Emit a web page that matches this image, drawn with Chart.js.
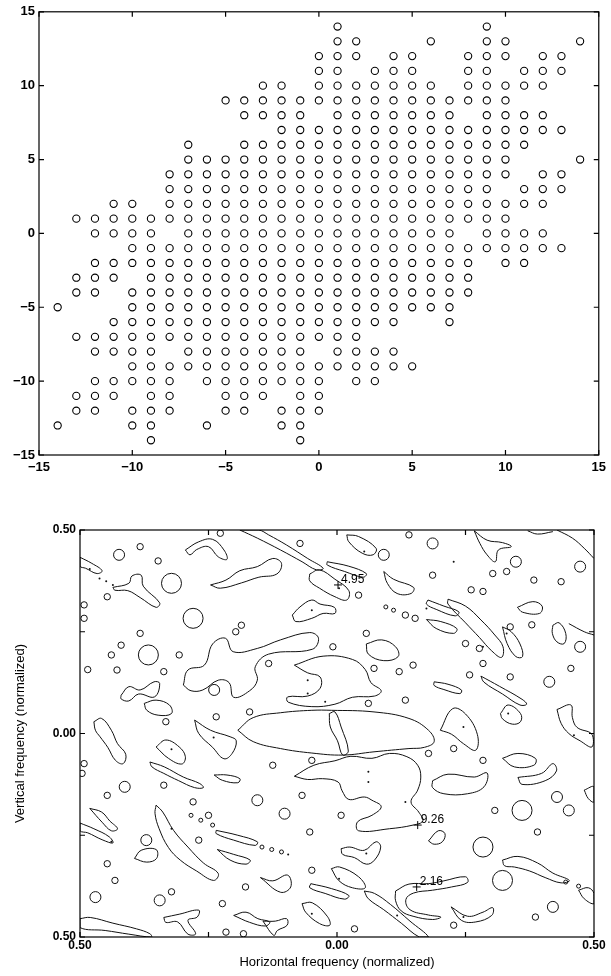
<!DOCTYPE html>
<html>
<head>
<meta charset="utf-8">
<script src="https://cdn.jsdelivr.net/npm/chart.js@4.4.1/dist/chart.umd.min.js"></script>
<style>
  html, body { margin: 0; padding: 0; background: #fff; }
  canvas { display: block; }
</style>
</head>
<body>
<canvas id="gridChart" width="611" height="485"></canvas>
<canvas id="contourChart" width="611" height="491"></canvas>
<script>
// ---- top plot: occupied integer lags (one row per vertical lag) ----
const rowLevels = [14, 13, 12, 11, 10, 9, 8, 7, 6, 5, 4, 3, 2, 1, 0, -1, -2, -3, -4, -5, -6, -7, -8, -9, -10, -11, -12, -13, -14];
const rowColumns = [
  [1, 9],
  [1, 2, 6, 9, 10, 14],
  [0, 1, 2, 4, 5, 8, 9, 10, 12, 13],
  [0, 1, 3, 4, 5, 8, 9, 11, 12, 13],
  [-3, -2, 0, 1, 2, 3, 4, 5, 6, 8, 9, 10, 11, 12],
  [-5, -4, -3, -2, -1, 0, 1, 2, 3, 4, 5, 6, 7, 8, 9, 10],
  [-4, -3, -2, -1, 1, 2, 3, 4, 5, 6, 7, 9, 10, 11, 12],
  [-2, -1, 0, 1, 2, 3, 4, 5, 6, 7, 8, 9, 10, 11, 12, 13],
  [-7, -4, -3, -2, -1, 0, 1, 2, 3, 4, 5, 6, 7, 8, 9, 10, 11],
  [-7, -6, -5, -4, -3, -2, -1, 0, 1, 2, 3, 4, 5, 6, 7, 8, 9, 10, 14],
  [-8, -7, -6, -5, -4, -3, -2, -1, 0, 1, 2, 3, 4, 5, 6, 7, 8, 9, 10, 12, 13],
  [-8, -7, -6, -5, -4, -3, -2, -1, 0, 1, 2, 3, 4, 5, 6, 7, 8, 9, 11, 12, 13],
  [-11, -10, -8, -7, -6, -5, -4, -3, -2, -1, 0, 1, 2, 3, 4, 5, 6, 7, 8, 9, 10, 11, 12],
  [-13, -12, -11, -10, -9, -8, -7, -6, -5, -4, -3, -2, -1, 0, 1, 2, 3, 4, 5, 6, 7, 8, 9, 10],
  [-12, -11, -10, -9, -7, -6, -5, -4, -3, -2, -1, 0, 1, 2, 3, 4, 5, 6, 7, 9, 10, 11, 12],
  [-10, -9, -8, -7, -6, -5, -4, -3, -2, -1, 0, 1, 2, 3, 4, 5, 6, 7, 8, 9, 10, 11, 12, 13],
  [-12, -11, -10, -9, -8, -7, -6, -5, -4, -3, -2, -1, 0, 1, 2, 3, 4, 5, 6, 7, 8, 10, 11],
  [-13, -12, -11, -9, -8, -7, -6, -5, -4, -3, -2, -1, 0, 1, 2, 3, 4, 5, 6, 7, 8],
  [-13, -12, -10, -9, -8, -7, -6, -5, -4, -3, -2, -1, 0, 1, 2, 3, 4, 5, 6, 7, 8],
  [-14, -10, -9, -8, -7, -6, -5, -4, -3, -2, -1, 0, 1, 2, 3, 4, 5, 6, 7],
  [-11, -10, -9, -8, -7, -6, -5, -4, -3, -2, -1, 0, 1, 2, 3, 4, 7],
  [-13, -12, -11, -10, -9, -8, -7, -6, -5, -4, -3, -2, -1, 0, 1, 2],
  [-12, -11, -10, -9, -7, -6, -5, -4, -3, -2, -1, 1, 2, 3, 4],
  [-10, -9, -8, -7, -6, -5, -4, -3, -2, -1, 0, 1, 2, 3, 4, 5],
  [-12, -11, -10, -9, -8, -6, -5, -4, -3, -2, -1, 0, 2, 3],
  [-13, -12, -11, -9, -8, -5, -4, -3, -1, 0],
  [-13, -12, -10, -9, -8, -5, -4, -2, -1, 0],
  [-14, -10, -9, -6, -2, -1],
  [-9, -1]
];
const gridTicks = [-15, -10, -5, 0, 5, 10, 15];

// ---- bottom plot: contour outlines in normalized frequency ----
const contourLoops = [
  [[-0.5,0.433],[-0.477,0.418],[-0.457,0.4],[-0.467,0.393],[-0.489,0.406],[-0.5,0.411]],
  [[-0.295,0.451],[-0.269,0.471],[-0.242,0.477],[-0.220,0.451],[-0.214,0.428],[-0.231,0.434],[-0.250,0.459],[-0.273,0.452],[-0.286,0.439]],
  [[-0.189,0.5],[-0.155,0.480],[-0.110,0.451],[-0.068,0.422],[-0.040,0.402],[-0.027,0.406],[-0.057,0.430],[-0.098,0.463],[-0.133,0.488],[-0.152,0.5]],
  [[-0.246,0.365],[-0.216,0.377],[-0.189,0.400],[-0.155,0.410],[-0.125,0.430],[-0.108,0.418],[-0.117,0.392],[-0.152,0.384],[-0.186,0.370],[-0.227,0.357]],
  [[0.019,0.488],[0.042,0.484],[0.076,0.455],[0.070,0.439],[0.049,0.443],[0.023,0.471]],
  [[0.267,0.498],[0.292,0.475],[0.322,0.469],[0.339,0.459],[0.314,0.451],[0.308,0.422],[0.292,0.439],[0.278,0.467]],
  [[-0.019,0.422],[0.023,0.411],[0.057,0.393],[0.051,0.384],[0.015,0.398],[-0.019,0.414]],
  [[-0.053,0.392],[-0.034,0.402],[-0.004,0.379],[0.023,0.351],[0.019,0.328],[-0.004,0.336],[-0.034,0.357],[-0.053,0.375]],
  [[0.091,0.398],[0.110,0.379],[0.149,0.359],[0.144,0.344],[0.117,0.344],[0.098,0.369]],
  [[-0.436,0.359],[-0.405,0.369],[-0.399,0.387],[-0.381,0.389],[-0.377,0.362],[-0.345,0.321],[-0.352,0.310],[-0.383,0.334],[-0.407,0.351],[-0.432,0.352]],
  [[-0.087,0.291],[-0.072,0.311],[-0.049,0.328],[-0.033,0.318],[-0.005,0.310],[-0.004,0.295],[-0.027,0.295],[-0.049,0.283],[-0.080,0.275]],
  [[0.177,0.328],[0.208,0.313],[0.237,0.299],[0.230,0.289],[0.193,0.305],[0.174,0.318]],
  [[0.216,0.330],[0.250,0.313],[0.280,0.279],[0.307,0.242],[0.323,0.213],[0.320,0.187],[0.301,0.203],[0.277,0.236],[0.250,0.272],[0.216,0.318]],
  [[0.351,0.310],[0.381,0.324],[0.399,0.313],[0.394,0.295],[0.361,0.298]],
  [[0.174,0.280],[0.202,0.275],[0.233,0.258],[0.227,0.246],[0.193,0.258]],
  [[0.322,0.262],[0.339,0.250],[0.356,0.220],[0.361,0.189],[0.348,0.189],[0.331,0.221]],
  [[0.420,0.266],[0.432,0.272],[0.445,0.246],[0.442,0.221],[0.428,0.225],[0.419,0.246]],
  [[0.057,0.220],[0.087,0.230],[0.114,0.213],[0.119,0.189],[0.091,0.179],[0.061,0.195]],
  [[-0.299,0.119],[-0.290,0.156],[-0.258,0.168],[-0.242,0.220],[-0.217,0.234],[-0.202,0.201],[-0.155,0.209],[-0.110,0.230],[-0.053,0.248],[-0.036,0.234],[-0.048,0.207],[-0.133,0.195],[-0.159,0.164],[-0.155,0.131],[-0.170,0.105],[-0.201,0.089],[-0.210,0.125],[-0.231,0.131],[-0.261,0.107],[-0.284,0.105]],
  [[-0.083,0.168],[-0.027,0.190],[0.030,0.182],[0.055,0.157],[0.066,0.125],[0.086,0.105],[0.073,0.092],[0.030,0.089],[-0.004,0.072],[-0.049,0.066],[-0.095,0.077],[-0.096,0.090],[-0.057,0.092],[-0.033,0.111],[-0.033,0.139],[-0.057,0.149]],
  [[-0.193,0.008],[-0.163,0.039],[-0.110,0.051],[-0.049,0.057],[-0.011,0.057],[0.072,0.053],[0.140,0.037],[0.178,0.008],[0.189,-0.020],[0.170,-0.034],[0.140,-0.037],[0.072,-0.045],[0.011,-0.053],[-0.049,-0.048],[-0.110,-0.037],[-0.163,-0.020]],
  [[-0.015,0.049],[-0.004,0.053],[0.008,0.016],[0.022,-0.043],[0.011,-0.053],[0.001,-0.018],[-0.013,0.016]],
  [[-0.083,-0.105],[-0.045,-0.078],[-0.004,-0.067],[0.027,-0.056],[0.068,-0.061],[0.102,-0.049],[0.136,-0.057],[0.157,-0.078],[0.163,-0.107],[0.157,-0.139],[0.144,-0.168],[0.159,-0.193],[0.167,-0.215],[0.148,-0.225],[0.102,-0.234],[0.042,-0.239],[0.040,-0.217],[0.068,-0.201],[0.086,-0.180],[0.068,-0.164],[0.053,-0.156],[0.023,-0.162],[0.010,-0.141],[0.002,-0.119],[-0.028,-0.111],[-0.057,-0.113]],
  [[0.114,-0.387],[0.140,-0.370],[0.178,-0.369],[0.208,-0.362],[0.250,-0.352],[0.254,-0.366],[0.223,-0.377],[0.186,-0.385],[0.149,-0.392],[0.134,-0.408],[0.142,-0.433],[0.178,-0.446],[0.202,-0.451],[0.186,-0.457],[0.148,-0.449],[0.125,-0.436],[0.114,-0.411]],
  [[0.053,-0.387],[0.073,-0.393],[0.104,-0.420],[0.142,-0.461],[0.178,-0.5],[0.160,-0.5],[0.125,-0.466],[0.091,-0.433],[0.061,-0.406]],
  [[-0.011,-0.332],[0.005,-0.328],[0.042,-0.352],[0.055,-0.379],[0.030,-0.379],[0.004,-0.362]],
  [[-0.051,-0.369],[-0.011,-0.381],[0.023,-0.398],[0.015,-0.407],[-0.023,-0.393],[-0.053,-0.379]],
  [[-0.068,-0.418],[-0.048,-0.416],[-0.019,-0.449],[-0.014,-0.471],[-0.034,-0.467],[-0.061,-0.439]],
  [[-0.149,-0.354],[-0.125,-0.362],[-0.096,-0.348],[-0.090,-0.377],[-0.110,-0.390]],
  [[-0.201,-0.447],[-0.177,-0.439],[-0.154,-0.455],[-0.131,-0.463],[-0.139,-0.473],[-0.170,-0.464]],
  [[-0.144,-0.461],[-0.120,-0.461],[-0.098,-0.455],[-0.097,-0.471],[-0.116,-0.484],[-0.123,-0.496]],
  [[-0.337,-0.452],[-0.307,-0.444],[-0.269,-0.434],[-0.272,-0.451],[-0.290,-0.459],[-0.275,-0.492],[-0.290,-0.493],[-0.310,-0.463],[-0.333,-0.464]],
  [[-0.5,-0.455],[-0.480,-0.452],[-0.436,-0.466],[-0.390,-0.480],[-0.364,-0.492],[-0.361,-0.5],[-0.405,-0.493],[-0.451,-0.484],[-0.5,-0.477]],
  [[-0.352,-0.176],[-0.339,-0.193],[-0.318,-0.238],[-0.290,-0.279],[-0.260,-0.318],[-0.231,-0.344],[-0.240,-0.361],[-0.273,-0.338],[-0.305,-0.311],[-0.328,-0.280],[-0.346,-0.234],[-0.354,-0.197]],
  [[-0.481,-0.184],[-0.458,-0.193],[-0.442,-0.215],[-0.427,-0.234],[-0.439,-0.239],[-0.457,-0.218]],
  [[-0.5,-0.220],[-0.473,-0.234],[-0.443,-0.254],[-0.436,-0.269],[-0.457,-0.261],[-0.485,-0.244],[-0.5,-0.239]],
  [[-0.394,-0.307],[-0.381,-0.287],[-0.352,-0.285],[-0.351,-0.307],[-0.370,-0.316]],
  [[-0.233,-0.285],[-0.201,-0.297],[-0.169,-0.311],[-0.177,-0.321],[-0.208,-0.311]],
  [[-0.235,-0.238],[-0.193,-0.250],[-0.155,-0.266],[-0.159,-0.275],[-0.201,-0.262],[-0.235,-0.246]],
  [[0.008,-0.283],[0.025,-0.279],[0.053,-0.287],[0.076,-0.266],[0.085,-0.279],[0.073,-0.311],[0.057,-0.321],[0.034,-0.305],[0.011,-0.297]],
  [[0.178,-0.264],[0.197,-0.239],[0.210,-0.246],[0.205,-0.266],[0.189,-0.272]],
  [[0.222,-0.426],[0.254,-0.449],[0.284,-0.439],[0.303,-0.428],[0.301,-0.447],[0.270,-0.463],[0.242,-0.459]],
  [[0.322,-0.311],[0.352,-0.302],[0.390,-0.318],[0.420,-0.343],[0.452,-0.361],[0.436,-0.367],[0.405,-0.354],[0.375,-0.338],[0.345,-0.328],[0.326,-0.325]],
  [[0.470,-0.385],[0.489,-0.379],[0.5,-0.393],[0.5,-0.418],[0.481,-0.406]],
  [[0.186,-0.116],[0.216,-0.100],[0.267,-0.107],[0.292,-0.097],[0.286,-0.131],[0.254,-0.148],[0.208,-0.148],[0.186,-0.133]],
  [[0.352,-0.108],[0.398,-0.098],[0.420,-0.074],[0.427,-0.092],[0.405,-0.116],[0.360,-0.125]],
  [[0.322,-0.061],[0.352,-0.049],[0.386,-0.061],[0.383,-0.078],[0.345,-0.082]],
  [[0.201,0.008],[0.225,0.061],[0.250,0.048],[0.273,-0.002],[0.270,-0.041],[0.246,-0.025],[0.223,-0.002]],
  [[0.318,0.049],[0.333,0.070],[0.357,0.049],[0.357,0.029],[0.341,0.023],[0.322,0.036]],
  [[0.428,0.059],[0.455,0.070],[0.458,0.039],[0.467,0.015],[0.496,-0.002],[0.496,-0.033],[0.473,-0.018],[0.451,0],[0.436,0.025]],
  [[0.280,0.141],[0.316,0.116],[0.360,0.084],[0.369,0.072],[0.356,0.070],[0.322,0.097],[0.286,0.126]],
  [[0.189,0.127],[0.216,0.121],[0.242,0.107],[0.239,0.098],[0.208,0.108],[0.189,0.118]],
  [[-0.277,0.033],[-0.246,0.008],[-0.208,-0.008],[-0.196,-0.018],[-0.204,-0.049],[-0.220,-0.062],[-0.242,-0.034],[-0.269,0]],
  [[-0.473,0.029],[-0.458,0.037],[-0.439,0.008],[-0.427,-0.025],[-0.411,-0.051],[-0.416,-0.074],[-0.431,-0.066],[-0.446,-0.034],[-0.461,-0.008],[-0.470,0.008]],
  [[-0.352,-0.033],[-0.333,-0.016],[-0.307,-0.033],[-0.295,-0.057],[-0.302,-0.075],[-0.328,-0.061]],
  [[-0.364,-0.070],[-0.336,-0.082],[-0.299,-0.107],[-0.267,-0.123],[-0.260,-0.133],[-0.277,-0.133],[-0.308,-0.116],[-0.337,-0.098],[-0.360,-0.082]],
  [[-0.239,-0.102],[-0.214,-0.102],[-0.189,-0.111],[-0.193,-0.121],[-0.223,-0.115]],
  [[-0.420,0.094],[-0.405,0.115],[-0.383,0.107],[-0.356,0.127],[-0.345,0.123],[-0.355,0.090],[-0.386,0.097],[-0.405,0.080],[-0.420,0.085]],
  [[-0.375,0.074],[-0.352,0.082],[-0.326,0.070],[-0.322,0.049],[-0.348,0.045],[-0.370,0.057]],
  [[0.481,-0.139],[0.5,-0.131],[0.5,-0.168],[0.489,-0.160]]
];
const contourOpenLines = [
  [[0.428,0.5],[0.458,0.480],[0.481,0.455],[0.5,0.430]],
  [[0.371,0.498],[0.390,0.490],[0.420,0.496]],
  [[0.451,0.270],[0.481,0.250],[0.5,0.242]]
];
const smallOvals = [
  [-0.383,0.459],[-0.348,0.424],[-0.227,0.492],[-0.072,0.467],[0.330,0.398],[0.303,0.393],[0.383,0.377],[0.436,0.373],
  [0.186,0.389],[-0.447,0.336],[-0.492,0.316],[-0.492,0.283],[0.042,0.340],[0.133,0.291],[0.152,0.283],[0.337,0.262],
  [0.379,0.267],[0.261,0.353],[0.284,0.349],[-0.383,0.246],[-0.420,0.217],[-0.439,0.193],[-0.307,0.193],[-0.428,0.156],
  [-0.337,0.152],[-0.133,0.172],[-0.008,0.213],[0.057,0.246],[0.072,0.160],[0.121,0.152],[0.148,0.168],[0.250,0.221],
  [0.277,0.209],[0.258,0.144],[0.284,0.172],[0.337,0.139],[0.455,0.160],[-0.333,0.029],[-0.235,0.041],[-0.170,0.053],
  [0.133,0.082],[-0.492,-0.074],[-0.496,-0.098],[-0.337,-0.127],[-0.447,-0.152],[-0.280,-0.168],[-0.125,-0.078],[-0.049,-0.066],
  [-0.068,-0.152],[0.008,-0.201],[-0.053,-0.242],[0.178,-0.049],[0.227,-0.037],[0.284,-0.066],[0.307,-0.189],[0.390,-0.242],
  [-0.250,-0.201],[-0.269,-0.262],[-0.432,-0.361],[-0.447,-0.320],[-0.322,-0.389],[-0.216,-0.488],[-0.182,-0.492],[-0.178,-0.377],
  [-0.223,-0.418],[-0.049,-0.336],[0.227,-0.471],[0.386,-0.451],[0.034,-0.480],[-0.485,0.157],[0.140,0.488],[-0.197,0.250],
  [-0.186,0.266],[0.061,0.074]
];
const midOvals = [
  [-0.424,0.439],[0.186,0.467],[0.091,0.439],[0.348,0.422],[0.473,0.410],[-0.371,-0.262],[-0.239,0.107],[0.413,0.127],
  [-0.413,-0.131],[-0.155,-0.164],[0.428,-0.156],[0.451,-0.189],[0.420,-0.426],[-0.470,-0.402],[-0.345,-0.410],[-0.102,-0.197],
  [0.473,0.213]
];
const bigOvals = [
  [-0.322,0.369],[-0.280,0.283],[-0.367,0.193],[0.360,-0.189],[0.284,-0.279],[0.322,-0.361]
];
const tinyOvals = [
  [-0.284,-0.201],[-0.265,-0.213],[-0.242,-0.225],[-0.146,-0.279],[-0.127,-0.285],[-0.108,-0.291],[0.095,0.311],[0.110,0.303],
  [0.445,-0.365],[0.470,-0.375]
];
const contourDots = [
  [-0.462,0.381],[-0.449,0.374],[-0.436,0.365],[0.053,0.447],[0.227,0.422],[-0.049,0.303],[0.004,0.357],[0.174,0.307],
  [0.330,0.246],[0.284,0.213],[-0.057,0.131],[-0.057,0.098],[-0.023,0.078],[-0.240,-0.010],[-0.322,-0.039],[0.246,0.016],
  [0.333,0.049],[0.461,-0.004],[0.061,-0.119],[0.061,-0.094],[0.133,-0.168],[0.057,-0.295],[-0.049,-0.443],[0.246,-0.451],
  [0.117,-0.447],[0.004,-0.357],[-0.322,-0.234],[-0.439,-0.266],[-0.481,0.404],[-0.095,-0.297]
];
const peakMarks = [[0.002,0.365],[0.157,-0.225],[0.155,-0.377]];
const peakLabels = ['4.95', '9.26', '2.16'];
const freqTicks = [-0.5, -0.25, 0, 0.25, 0.5];

Chart.defaults.font.family = '"Liberation Sans", Arial, sans-serif';
Chart.defaults.color = '#000';

// box round the plot with short inward ticks on all four sides
const frameTicks = {
  id: 'frameTicks',
  afterDatasetsDraw(chart, args, opts) {
    const {ctx, chartArea: a, scales: {x, y}} = chart;
    const len = opts.len || 5;
    ctx.save();
    ctx.strokeStyle = '#000';
    ctx.lineWidth = 1.2;
    ctx.strokeRect(a.left, a.top, a.right - a.left, a.bottom - a.top);
    ctx.beginPath();
    x.ticks.forEach(t => {
      const px = x.getPixelForValue(t.value);
      ctx.moveTo(px, a.bottom); ctx.lineTo(px, a.bottom - len);
      ctx.moveTo(px, a.top); ctx.lineTo(px, a.top + len);
    });
    y.ticks.forEach(t => {
      const py = y.getPixelForValue(t.value);
      ctx.moveTo(a.left, py); ctx.lineTo(a.left + len, py);
      ctx.moveTo(a.right, py); ctx.lineTo(a.right - len, py);
    });
    ctx.stroke();
    ctx.restore();
  }
};

// peak values written next to their + marks
const peakText = {
  id: 'peakText',
  afterDatasetsDraw(chart) {
    const {ctx, scales: {x, y}} = chart;
    ctx.save();
    ctx.font = '12px "Liberation Sans", Arial, sans-serif';
    ctx.fillStyle = '#000';
    ctx.textBaseline = 'middle';
    peakMarks.forEach((p, i) => {
      ctx.fillText(peakLabels[i], x.getPixelForValue(p[0]) + 3, y.getPixelForValue(p[1]) - 5);
    });
    ctx.restore();
  }
};

const minusLabel = v => (v < 0 ? '\u2212' + Math.abs(v) : String(v));

// ---- top chart ----
const gridPoints = [];
rowLevels.forEach((yv, i) => {
  rowColumns[i].forEach(xv => gridPoints.push({x: xv, y: yv}));
});

new Chart(document.getElementById('gridChart').getContext('2d'), {
  type: 'scatter',
  data: {
    datasets: [{
      data: gridPoints,
      pointStyle: 'circle',
      pointRadius: 3.6,
      pointBorderWidth: 1.1,
      pointBorderColor: '#000',
      pointBackgroundColor: 'rgba(0,0,0,0)'
    }]
  },
  options: {
    responsive: false,
    animation: false,
    events: [],
    layout: { padding: { top: 10, right: 10, left: 0, bottom: 0 } },
    plugins: { legend: { display: false }, tooltip: { enabled: false }, frameTicks: { len: 5 } },
    scales: {
      x: {
        type: 'linear', min: -15, max: 15,
        afterBuildTicks: s => { s.ticks = gridTicks.map(v => ({value: v})); },
        afterFit: s => { s.height = 30; },
        grid: { display: false, drawTicks: false, tickLength: 0 },
        border: { display: false },
        ticks: { padding: 5, autoSkip: false, maxRotation: 0, font: { size: 13, weight: 'bold' }, callback: minusLabel }
      },
      y: {
        type: 'linear', min: -15, max: 15,
        afterBuildTicks: s => { s.ticks = gridTicks.map(v => ({value: v})); },
        afterFit: s => { s.width = 39; },
        grid: { display: false, drawTicks: false, tickLength: 0 },
        border: { display: false },
        ticks: { padding: 4, autoSkip: false, font: { size: 13, weight: 'bold' }, callback: minusLabel }
      }
    }
  },
  plugins: [frameTicks]
});

// ---- bottom chart ----
const toXY = pts => pts.map(p => ({x: p[0], y: p[1]}));
const lineStyle = { showLine: true, tension: 0.4, borderColor: '#111', borderWidth: 1, pointRadius: 0, fill: false };
const ovalStyle = r => ({ showLine: false, pointStyle: 'circle', pointRadius: r, pointBorderWidth: 1, pointBorderColor: '#111', pointBackgroundColor: 'rgba(0,0,0,0)' });

const contourSets = []
  .concat(contourLoops.map(loop => Object.assign({ data: toXY(loop.concat([loop[0]])) }, lineStyle)))
  .concat(contourOpenLines.map(line => Object.assign({ data: toXY(line) }, lineStyle)))
  .concat([
    Object.assign({ data: toXY(tinyOvals) }, ovalStyle(2)),
    Object.assign({ data: toXY(smallOvals) }, ovalStyle(3.2)),
    Object.assign({ data: toXY(midOvals) }, ovalStyle(5.5)),
    Object.assign({ data: toXY(bigOvals) }, ovalStyle(10)),
    { data: toXY(contourDots), showLine: false, pointRadius: 1, pointBorderWidth: 0, pointBackgroundColor: '#111' },
    { data: toXY(peakMarks), showLine: false, pointStyle: 'cross', pointRadius: 4, pointBorderWidth: 1, pointBorderColor: '#000' }
  ]);

const freqLabel = v => (Math.abs(v) === 0.25 ? '' : Math.abs(v).toFixed(2));

new Chart(document.getElementById('contourChart').getContext('2d'), {
  type: 'scatter',
  data: { datasets: contourSets },
  options: {
    responsive: false,
    animation: false,
    events: [],
    layout: { padding: { top: 45, right: 17, left: 0, bottom: 0 } },
    plugins: { legend: { display: false }, tooltip: { enabled: false }, frameTicks: { len: 5 } },
    scales: {
      x: {
        type: 'linear', min: -0.5, max: 0.5,
        afterBuildTicks: s => { s.ticks = freqTicks.map(v => ({value: v})); },
        afterFit: s => { s.height = 39; },
        grid: { display: false, drawTicks: false, tickLength: 0 },
        border: { display: false },
        ticks: { padding: 1, autoSkip: false, maxRotation: 0, font: { size: 12, weight: 'bold' }, callback: freqLabel },
        title: { display: true, text: 'Horizontal frequency (normalized)', font: { size: 13 }, padding: { top: 0, bottom: 6 } }
      },
      y: {
        type: 'linear', min: -0.5, max: 0.5,
        afterBuildTicks: s => { s.ticks = freqTicks.map(v => ({value: v})); },
        afterFit: s => { s.width = 80; },
        grid: { display: false, drawTicks: false, tickLength: 0 },
        border: { display: false },
        ticks: { padding: 4, autoSkip: false, font: { size: 12, weight: 'bold' }, callback: freqLabel },
        title: { display: true, text: 'Vertical frequency (normalized)', font: { size: 13 }, padding: { top: 13, bottom: 0 } }
      }
    }
  },
  plugins: [frameTicks, peakText]
});
</script>
</body>
</html>
